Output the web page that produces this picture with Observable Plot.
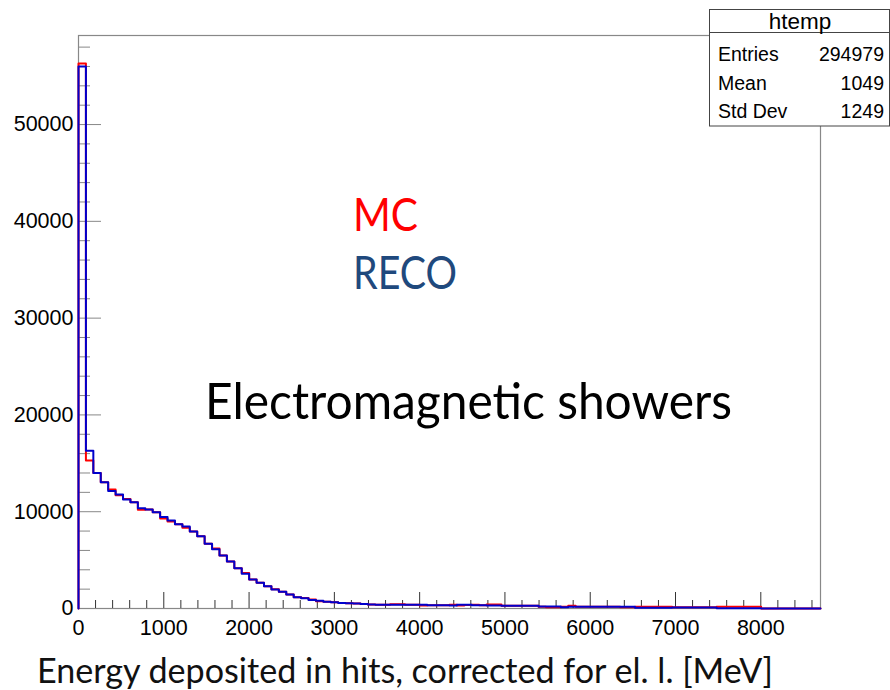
<!DOCTYPE html>
<html>
<head>
<meta charset="utf-8">
<script src="https://cdn.jsdelivr.net/npm/d3@7"></script>
<script src="https://cdn.jsdelivr.net/npm/@observablehq/plot@0.6"></script>
<style>
  body { margin: 0; background: #fff; }
  #chart { width: 890px; height: 690px; }
</style>
</head>
<body>
<div id="chart"></div>
<script>
// ---- data (100 bins of width 87 MeV, 0..8700) ----
const binWidth = 87;
const xMax = 8700;
const yMax = 59200;

const mcCounts = [
  56300, 15300, 14000, 13050, 12300, 11700, 11320, 10980, 10200, 10230,
  9950, 9300, 9000, 8700, 8350, 7950, 7470, 6700, 6200, 5480,
  4860, 4170, 3680, 3000, 2650, 2310, 1990, 1740, 1450, 1150,
  1090, 920, 740, 700, 640, 580, 540, 520, 470, 420,
  400, 400, 440, 440, 380, 380, 310, 340, 340, 340,
  380, 310, 360, 380, 340, 410, 410, 280, 280, 280,
  280, 280, 170, 140, 140, 170, 280, 170, 170, 170,
  170, 170, 170, 120, 120, 190, 190, 190, 190, 190,
  130, 130, 130, 130, 130, 130, 190, 190, 190, 190,
  190, 190, 0, 0, 0, 0, 0, 0, 0, 0
];

const recoCounts = [
  56000, 16300, 14000, 13050, 12150, 11780, 11260, 10980, 10360, 10230,
  9950, 9450, 9090, 8700, 8480, 7950, 7470, 6700, 6130, 5480,
  4860, 4170, 3580, 3000, 2650, 2310, 1960, 1720, 1450, 1170,
  1070, 880, 790, 700, 640, 580, 540, 510, 470, 420,
  400, 400, 400, 400, 380, 380, 380, 340, 340, 340,
  300, 400, 400, 340, 340, 300, 300, 280, 280, 280,
  280, 280, 200, 200, 200, 140, 170, 170, 170, 170,
  170, 170, 170, 170, 170, 70, 70, 70, 70, 70,
  110, 110, 110, 110, 110, 110, 30, 30, 30, 30,
  30, 30, 0, 0, 0, 0, 0, 0, 0, 0
];

const xTicksMajor = [0, 1000, 2000, 3000, 4000, 5000, 6000, 7000, 8000];
const xTicksMinor = [200, 400, 600, 800, 1200, 1400, 1600, 1800, 2200, 2400, 2600, 2800,
  3200, 3400, 3600, 3800, 4200, 4400, 4600, 4800, 5200, 5400, 5600, 5800,
  6200, 6400, 6600, 6800, 7200, 7400, 7600, 7800, 8200, 8400, 8600];
const yTicksMajor = [0, 10000, 20000, 30000, 40000, 50000];
const yTicksMinor = [2000, 4000, 6000, 8000, 12000, 14000, 16000, 18000, 22000, 24000, 26000, 28000,
  32000, 34000, 36000, 38000, 42000, 44000, 46000, 48000, 52000, 54000, 56000, 58000];

const statsTitle = "htemp";
const statsLabels = ["Entries", "Mean", "Std Dev"];
const statsValues = ["294979", "1049", "1249"];

const xTitle = "Energy deposited in hits, corrected for el. l. [MeV]";
const legendMC = "MC";
const legendRECO = "RECO";
const annotation = "Electromagnetic showers";

// ---- histogram outline (step) ----
function steps(counts, series) {
  const pts = [{x: 0, y: 0, series}];
  counts.forEach((c, i) => pts.push({x: i * binWidth, y: c, series}));
  pts.push({x: counts.length * binWidth, y: 0, series});
  return pts;
}
const mcLine = steps(mcCounts, "MC");
const recoLine = steps(recoCounts, "RECO");

const svg = Plot.plot({
  width: 890,
  height: 690,
  marginLeft: 78,
  marginRight: 70,
  marginTop: 35,
  marginBottom: 82,
  style: {fontFamily: "'Liberation Sans', Arial, sans-serif", fontSize: "21px", background: "white", color: "black", overflow: "visible"},
  x: {domain: [0, xMax], axis: null},
  y: {domain: [0, yMax], axis: null},
  marks: [
    Plot.frame({stroke: "#888", strokeWidth: 1.2}),
    // x ticks (inside, pointing up)
    Plot.axisX({ticks: xTicksMajor, tickSize: -16, tickFormat: () => "", stroke: "#333", label: null}),
    Plot.axisX({ticks: xTicksMinor, tickSize: -8, tickFormat: () => "", stroke: "#333", label: null}),
    Plot.axisX({ticks: xTicksMajor, tickSize: 0, tickPadding: 11, fontSize: 21.5, tickFormat: d => String(d), label: null}),
    // y ticks (inside, pointing right)
    Plot.axisY({ticks: yTicksMajor, tickSize: -23, tickFormat: () => "", stroke: "#888", label: null}),
    Plot.axisY({ticks: yTicksMinor, tickSize: -12, tickFormat: () => "", stroke: "#888", label: null}),
    Plot.axisY({ticks: yTicksMajor, tickSize: 0, tickPadding: 5, fontSize: 21.5, tickFormat: d => String(d), label: null}),
    Plot.line(mcLine, {x: "x", y: "y", curve: "step-after", stroke: "#ff0000", strokeWidth: 2}),
    Plot.line(recoLine, {x: "x", y: "y", curve: "step-after", stroke: "#0000cc", strokeWidth: 2})
  ]
});

const s = d3.select(svg);

// stats box
const box = s.append("g").attr("font-family", "'Liberation Sans', Arial, sans-serif").attr("fill", "black");
box.append("rect").attr("x", 709.5).attr("y", 9.5).attr("width", 180).attr("height", 116.5)
  .attr("fill", "white").attr("stroke", "#444").attr("stroke-width", 1);
box.append("line").attr("x1", 709.5).attr("x2", 889.5).attr("y1", 32.5).attr("y2", 32.5)
  .attr("stroke", "#444").attr("stroke-width", 1);
box.append("text").attr("x", 800).attr("y", 29).attr("text-anchor", "middle").attr("font-size", 22.5).text(statsTitle);
const rowY = [61, 90, 118];
statsLabels.forEach((l, i) => {
  box.append("text").attr("x", 718).attr("y", rowY[i]).attr("text-anchor", "start").attr("font-size", 19.5).text(l);
  box.append("text").attr("x", 884).attr("y", rowY[i]).attr("text-anchor", "end").attr("font-size", 19.5).text(statsValues[i]);
});

// annotations
const ann = s.append("g").attr("font-family", "Lato, 'Open Sans', sans-serif").attr("text-anchor", "start");
ann.append("text").attr("x", 353).attr("y", 231).attr("font-size", 46).attr("fill", "#ff0000")
  .attr("textLength", 65).attr("lengthAdjust", "spacingAndGlyphs").text(legendMC);
ann.append("text").attr("x", 353).attr("y", 289).attr("font-size", 46).attr("fill", "#1f497d")
  .attr("textLength", 104).attr("lengthAdjust", "spacingAndGlyphs").text(legendRECO);
ann.append("text").attr("x", 205).attr("y", 419).attr("font-size", 50).attr("fill", "black")
  .attr("textLength", 527).attr("lengthAdjust", "spacingAndGlyphs").text(annotation);
ann.append("text").attr("x", 37).attr("y", 683).attr("font-size", 35).attr("fill", "#111")
  .attr("textLength", 736).attr("lengthAdjust", "spacingAndGlyphs").text(xTitle);

document.getElementById("chart").append(svg);
</script>
</body>
</html>
